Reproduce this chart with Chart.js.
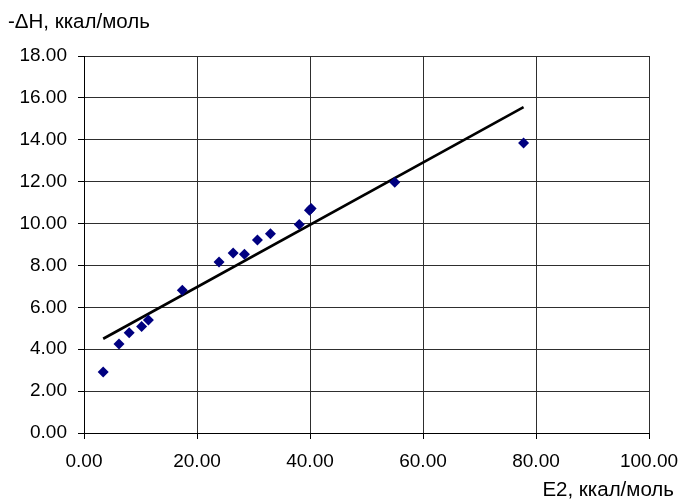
<!DOCTYPE html>
<html>
<head>
<meta charset="utf-8">
<script src="https://cdn.jsdelivr.net/npm/chart.js@4"></script>
<style>
  html, body { margin: 0; padding: 0; background: #fff; }
  #wrap { width: 682px; height: 499px; position: relative; }
</style>
</head>
<body>
<div id="wrap"><canvas id="chart" width="682" height="499"></canvas></div>
<script>
// точки: E2 и -ΔH
const e2Values = [3.4, 6.2, 8.0, 10.2, 11.4, 17.4, 23.9, 26.4, 28.4, 30.7, 33.0, 38.1, 39.9, 40.2, 55.0, 77.8];
const dhValues = [2.91, 4.25, 4.79, 5.08, 5.40, 6.82, 8.16, 8.60, 8.54, 9.21, 9.51, 9.96, 10.64, 10.72, 11.97, 13.85];

// линия тренда (концы)
const trendX = [3.4, 77.8];
const trendY = [4.50, 15.56];

const yAxisTitle = '-ΔH, ккал/моль';
const xAxisTitle = 'E2, ккал/моль';

const fontFamily = '"Liberation Sans", Arial, sans-serif';

const axisTitles = {
  id: 'axisTitles',
  afterDraw(chart) {
    const ctx = chart.ctx;
    ctx.save();
    ctx.fillStyle = '#000';
    ctx.font = '20.5px ' + fontFamily;
    ctx.textBaseline = 'alphabetic';
    ctx.textAlign = 'left';
    ctx.fillText(yAxisTitle, 8, 28);
    ctx.textAlign = 'right';
    ctx.fillText(xAxisTitle, 674, 496);
    ctx.restore();
  }
};

const ctx = document.getElementById('chart').getContext('2d');
new Chart(ctx, {
  type: 'scatter',
  data: {
    datasets: [{
      label: 'данные',
      data: e2Values.map((x, i) => ({ x: x, y: dhValues[i] })),
      pointStyle: 'rectRot',
      pointRadius: 5.5,
      pointHoverRadius: 5.5,
      backgroundColor: '#000080',
      borderColor: '#000080',
      borderWidth: 0
    }, {
      label: 'тренд',
      type: 'line',
      data: trendX.map((x, i) => ({ x: x, y: trendY[i] })),
      borderColor: '#000',
      borderWidth: 2.6,
      pointRadius: 0,
      fill: false
    }]
  },
  options: {
    responsive: false,
    animation: false,
    layout: { padding: { top: 56, right: 33, left: 0, bottom: 0 } },
    plugins: {
      legend: { display: false },
      tooltip: { enabled: false }
    },
    scales: {
      x: {
        type: 'linear',
        min: 0,
        max: 100,
        ticks: {
          stepSize: 20,
          color: '#000',
          padding: 11,
          font: { family: fontFamily, size: 19 },
          callback: v => v.toFixed(2)
        },
        grid: { color: '#2e2e2e', lineWidth: 1, tickLength: 6, tickColor: '#000' },
        border: { color: '#000', width: 1 },
        afterFit(scale) {
          scale.height = 66;
          scale.paddingLeft = 0;
          scale.paddingRight = 0;
        }
      },
      y: {
        type: 'linear',
        min: 0,
        max: 18,
        ticks: {
          stepSize: 2,
          color: '#000',
          padding: 11,
          font: { family: fontFamily, size: 19 },
          callback: v => v.toFixed(2)
        },
        grid: { color: '#2e2e2e', lineWidth: 1, tickLength: 6, tickColor: '#000' },
        border: { color: '#000', width: 1 },
        afterFit(scale) {
          scale.width = 84;
          scale.paddingTop = 0;
          scale.paddingBottom = 0;
        }
      }
    }
  },
  plugins: [axisTitles]
});
</script>
</body>
</html>
